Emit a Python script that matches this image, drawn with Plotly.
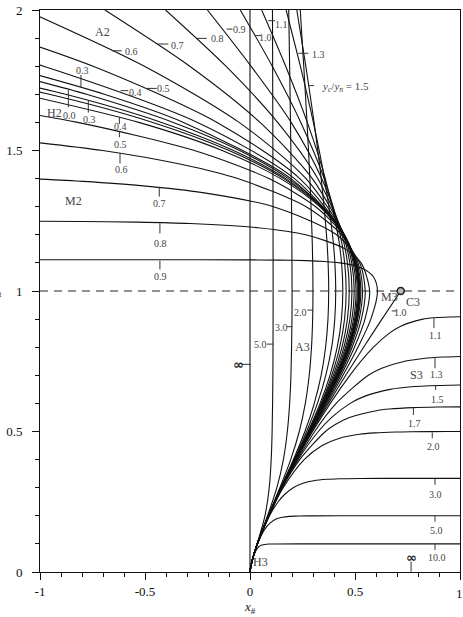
import plotly.graph_objects as go

# ---------------- data: dimensionless GVF profiles x# (x) vs y# (y) ----------------
# Adverse-slope curves (A3 below y#=1, A2 above), labelled by yc/yn
A_INF_x = [0, 0]
A_INF_y = [0, 2]
A50_y = [0, 0.02, 0.05, 0.1, 0.2, 0.3, 0.4, 0.5, 0.7, 1.0, 1.5, 2.0]
A50_x = [0, 0.0041, 0.0137, 0.0338, 0.0712, 0.0916, 0.1009, 0.1054, 0.1090, 0.1101, 0.1090, 0.1070]
A30_y = [0, 0.02, 0.05, 0.1, 0.2, 0.3, 0.4, 0.5, 0.6, 0.7, 0.9, 1.0, 1.2, 1.4, 1.6, 1.8, 2.0]
A30_x = [0, 0.0041, 0.0138, 0.0347, 0.0835, 0.1279, 0.1590, 0.1778, 0.1888, 0.1950, 0.1999, 0.2003, 0.1991, 0.1964, 0.1928, 0.1887, 0.1844]
A20_y = [0, 0.02, 0.05, 0.1, 0.2, 0.3, 0.4, 0.5, 0.6, 0.7, 0.8, 0.9, 1.0, 1.1, 1.2, 1.4, 1.6, 1.8, 2.0]
A20_x = [0, 0.0041, 0.0138, 0.0347, 0.0863, 0.1423, 0.1937, 0.2346, 0.2635, 0.2820, 0.2929, 0.2983, 0.2998, 0.2986, 0.2954, 0.2851, 0.2715, 0.2560, 0.2393]
A15_y = [0, 0.02, 0.05, 0.1, 0.2, 0.3, 0.4, 0.5, 0.6, 0.7, 0.8, 0.9, 1.0, 1.1, 1.2, 1.4, 1.6, 1.8, 2.0]
A15_x = [0, 0.0041, 0.0138, 0.0348, 0.0871, 0.1465, 0.2066, 0.2613, 0.3060, 0.3387, 0.3600, 0.3713, 0.3747, 0.3719, 0.3643, 0.3391, 0.3051, 0.2657, 0.2228]
A13_y = [0, 0.02, 0.05, 0.1, 0.3, 0.4, 0.5, 0.6, 0.7, 0.8, 0.9, 1.0, 1.1, 1.2, 1.4, 1.6, 1.8, 2.0]
A13_x = [0, 0.0041, 0.0138, 0.0348, 0.1475, 0.2097, 0.2696, 0.3210, 0.3609, 0.3889, 0.4036, 0.4083, 0.4042, 0.3929, 0.3545, 0.3017, 0.2398, 0.1720]
A11_y = [0, 0.02, 0.05, 0.1, 0.3, 0.4, 0.5, 0.6, 0.7, 0.8, 0.9, 1.0, 1.1, 1.2, 1.4, 1.6, 1.8, 2.0]
A11_x = [0, 0.0041, 0.0138, 0.0348, 0.1483, 0.2128, 0.2762, 0.3337, 0.3808, 0.4154, 0.4355, 0.4420, 0.4360, 0.4189, 0.3586, 0.2728, 0.1699, 0.0555]
A10_y = [0, 0.02, 0.05, 0.1, 0.3, 0.4, 0.5, 0.6, 0.7, 0.8, 0.9, 1.0, 1.1, 1.2, 1.4, 1.6, 1.8, 2.0]
A10_x = [0, 0.0041, 0.0138, 0.0348, 0.1486, 0.2137, 0.2788, 0.3389, 0.3893, 0.4273, 0.4503, 0.4579, 0.4506, 0.4296, 0.3533, 0.2419, 0.1061, -0.0465]
A09_y = [0, 0.02, 0.05, 0.1, 0.3, 0.5, 0.7, 0.8, 0.9, 1.0, 1.1, 1.2, 1.4, 1.6, 1.8, 2.0]
A09_x = [0, 0.0041, 0.0138, 0.0348, 0.1488, 0.2809, 0.3967, 0.4382, 0.4638, 0.4726, 0.4639, 0.4382, 0.3416, 0.1959, 0.0049, -0.2028]
A08_y = [0, 0.02, 0.05, 0.1, 0.3, 0.5, 0.7, 0.8, 0.9, 1.0, 1.1, 1.2, 1.4, 1.6, 1.8, 2.0]
A08_x = [0, 0.0041, 0.0138, 0.0348, 0.1490, 0.2826, 0.4028, 0.4473, 0.4756, 0.4855, 0.4752, 0.4442, 0.3226, 0.1315, -0.1146, -0.4022]
A07_y = [0, 0.02, 0.05, 0.1, 0.3, 0.5, 0.7, 0.8, 0.9, 1.0, 1.1, 1.2, 1.4, 1.6, 1.8, 2.0]
A07_x = [0, 0.0041, 0.0138, 0.0348, 0.1491, 0.2838, 0.4076, 0.4546, 0.4853, 0.4963, 0.4844, 0.4476, 0.2968, 0.0476, -0.2870, -0.6909]
A06_y = [0, 0.02, 0.05, 0.1, 0.3, 0.5, 0.7, 0.8, 0.9, 1.0, 1.1, 1.2, 1.4, 1.6, 1.8, 2.0]
A06_x = [0, 0.0041, 0.0138, 0.0348, 0.1492, 0.2848, 0.4113, 0.4603, 0.4930, 0.5050, 0.4917, 0.4492, 0.2669, -0.0520, -0.5030, -1.0719]
A05_y = [0, 0.02, 0.05, 0.1, 0.3, 0.5, 0.7, 0.8, 0.9, 1.0, 1.1, 1.2, 1.4, 1.6, 1.8, 2.0]
A05_x = [0, 0.0041, 0.0138, 0.0348, 0.1492, 0.2853, 0.4137, 0.4641, 0.4984, 0.5111, 0.4965, 0.4492, 0.2368, -0.1569, -0.7474, -1.5345]
A04_y = [0, 0.02, 0.05, 0.1, 0.3, 0.5, 0.7, 0.8, 0.9, 1.0, 1.1, 1.2, 1.4, 1.6, 1.8, 1.9]
A04_x = [0, 0.0041, 0.0138, 0.0348, 0.1493, 0.2858, 0.4154, 0.4672, 0.5021, 0.5155, 0.4993, 0.4490, 0.2120, -0.2499, -0.9830, -1.4623]
A03_y = [0, 0.02, 0.05, 0.1, 0.3, 0.5, 0.7, 0.8, 0.9, 1.0, 1.1, 1.2, 1.4, 1.6, 1.7, 1.8]
A03_x = [0, 0.0041, 0.0138, 0.0348, 0.1493, 0.2860, 0.4163, 0.4683, 0.5041, 0.5176, 0.5016, 0.4482, 0.1947, -0.3168, -0.6937, -1.1645]
# Horizontal bed (H3 / H2), yc/yn = 0
H00_y = [0, 0.02, 0.05, 0.1, 0.2, 0.3, 0.4, 0.5, 0.6, 0.7, 0.8, 0.9, 1.0, 1.1, 1.2, 1.3, 1.4, 1.5, 1.6, 1.7, 1.75]
H00_x = [0, 0.0041, 0.0138, 0.0348, 0.0875, 0.1494, 0.2167, 0.2862, 0.3544, 0.4169, 0.4692, 0.5055, 0.5192, 0.5028, 0.4479, 0.3448, 0.1828, -0.0496, -0.3654, -0.7788, -1.026]
# Mild slope (M3 / M2)
M03_y = [0, 0.02, 0.05, 0.1, 0.3, 0.5, 0.7, 0.8, 0.9, 1.0, 1.1, 1.2, 1.3, 1.4, 1.5, 1.6, 1.7, 1.8]
M03_x = [0, 0.0041, 0.0138, 0.0348, 0.1493, 0.2863, 0.4175, 0.4702, 0.5068, 0.5207, 0.5040, 0.4473, 0.3400, 0.1697, -0.0783, -0.4210, -0.8784, -1.4744]
M035_y = [0, 0.02, 0.05, 0.1, 0.3, 0.5, 0.7, 0.8, 0.9, 1.0, 1.1, 1.2, 1.3, 1.4, 1.5, 1.6, 1.7, 1.8]
M035_x = [0, 0.0041, 0.0138, 0.0348, 0.1493, 0.2865, 0.4180, 0.4710, 0.5079, 0.5218, 0.5048, 0.4470, 0.3368, 0.1602, -0.0995, -0.4630, -0.9558, -1.6102]
M04_y = [0, 0.02, 0.05, 0.1, 0.3, 0.5, 0.7, 0.8, 0.9, 1.0, 1.1, 1.2, 1.3, 1.4, 1.5, 1.6, 1.7]
M04_x = [0, 0.0041, 0.0138, 0.0348, 0.1494, 0.2866, 0.4185, 0.4718, 0.5090, 0.5232, 0.5058, 0.4463, 0.3317, 0.1456, -0.1325, -0.5296, -1.0821]
M05_y = [0, 0.02, 0.05, 0.1, 0.3, 0.5, 0.7, 0.8, 0.9, 1.0, 1.1, 1.2, 1.3, 1.4, 1.5, 1.6, 1.65]
M05_x = [0, 0.0041, 0.0138, 0.0348, 0.1494, 0.2869, 0.4201, 0.4745, 0.5129, 0.5278, 0.5091, 0.4436, 0.3128, 0.0900, -0.2653, -0.8209, -1.2092]
M06_y = [0, 0.02, 0.05, 0.1, 0.3, 0.5, 0.7, 0.8, 0.9, 1.0, 1.1, 1.2, 1.3, 1.4, 1.45, 1.5, 1.55]
M06_x = [0, 0.0041, 0.0138, 0.0348, 0.1495, 0.2876, 0.4230, 0.4792, 0.5197, 0.5357, 0.5145, 0.4362, 0.2672, -0.0585, -0.323, -0.702, -1.282]
M07_y = [0, 0.02, 0.05, 0.1, 0.3, 0.5, 0.7, 0.8, 0.9, 1.0, 1.1, 1.2, 1.3, 1.35, 1.375, 1.39, 1.4]
M07_x = [0, 0.0041, 0.0138, 0.0348, 0.1496, 0.2886, 0.4273, 0.4864, 0.5305, 0.5486, 0.5222, 0.4124, 0.1118, -0.2258, -0.5206, -0.793, -1.048]
M08_y = [0, 0.02, 0.05, 0.1, 0.3, 0.5, 0.7, 0.8, 0.9, 1.0, 1.1, 1.15, 1.2, 1.225, 1.24, 1.245, 1.2475, 1.249]
M08_x = [0, 0.0041, 0.0138, 0.0348, 0.1497, 0.2900, 0.4336, 0.4973, 0.5475, 0.5696, 0.5290, 0.4524, 0.2656, 0.0387, -0.287, -0.543, -0.806, -1.159]
M09_y = [0, 0.02, 0.05, 0.1, 0.3, 0.5, 0.7, 0.8, 0.9, 1.0, 1.05, 1.075, 1.0875, 1.1, 1.105, 1.108, 1.11, 1.1108, 1.1111, 1.1111]
M09_x = [0, 0.0041, 0.0138, 0.0348, 0.1499, 0.2919, 0.4427, 0.5141, 0.5755, 0.6071, 0.5884, 0.5501, 0.5106, 0.4276, 0.3546, 0.27, 0.138, -0.028, -0.4, -1.05]
# Critical slope (C3), yc/yn = 1.0
C10_y = [0, 0.02, 0.05, 0.1, 0.3, 0.5, 0.6, 0.7, 0.8, 0.9, 1.0]
C10_x = [0, 0.0041, 0.0138, 0.0348, 0.1501, 0.2944, 0.3735, 0.4559, 0.5411, 0.6284, 0.7177]
# Steep slope (S3)
S11_y = [0, 0.02, 0.05, 0.1, 0.3, 0.5, 0.7, 0.8, 0.85, 0.875, 0.9, 0.905, 0.9075, 0.9085]
S11_x = [0, 0.0041, 0.0138, 0.0348, 0.1504, 0.2978, 0.4756, 0.5881, 0.6638, 0.7176, 0.8233, 0.8807, 0.948, 1.03]
S13_y = [0, 0.02, 0.05, 0.1, 0.3, 0.5, 0.6, 0.7, 0.725, 0.75, 0.76, 0.765, 0.7675]
S13_x = [0, 0.0041, 0.0138, 0.0348, 0.1512, 0.3080, 0.4104, 0.5635, 0.6274, 0.7367, 0.8265, 0.922, 1.03]
S15_y = [0, 0.02, 0.05, 0.1, 0.3, 0.4, 0.5, 0.55, 0.6, 0.625, 0.65, 0.66, 0.663, 0.6658]
S15_x = [0, 0.0041, 0.0138, 0.0348, 0.1524, 0.2290, 0.3254, 0.3887, 0.4770, 0.5446, 0.6672, 0.7823, 0.857, 1.03]
S17_y = [0, 0.02, 0.05, 0.1, 0.3, 0.4, 0.5, 0.525, 0.55, 0.575, 0.58, 0.585, 0.587, 0.5879]
S17_x = [0, 0.0041, 0.0138, 0.0349, 0.1541, 0.2368, 0.3590, 0.4061, 0.4736, 0.6073, 0.664, 0.776, 0.8926, 1.03]
S20_y = [0, 0.02, 0.05, 0.1, 0.2, 0.3, 0.4, 0.45, 0.475, 0.49, 0.495, 0.498, 0.499, 0.4998, 0.5]
S20_x = [0, 0.0041, 0.0138, 0.0348, 0.0887, 0.1580, 0.2579, 0.3438, 0.4228, 0.5208, 0.595, 0.693, 0.767, 0.939, 1.03]
S30_y = [0, 0.02, 0.05, 0.1, 0.2, 0.25, 0.275, 0.3, 0.3167, 0.325, 0.33, 0.332, 0.333, 0.3333, 0.3333]
S30_x = [0, 0.0041, 0.0138, 0.0350, 0.0927, 0.1344, 0.1633, 0.2059, 0.2556, 0.3027, 0.3654, 0.4273, 0.5221, 0.7, 1.03]
S50_y = [0, 0.02, 0.05, 0.1, 0.15, 0.175, 0.19, 0.195, 0.198, 0.199, 0.1995, 0.1999, 0.2, 0.2]
S50_x = [0, 0.0041, 0.0139, 0.0359, 0.0684, 0.0965, 0.1295, 0.1544, 0.1874, 0.2124, 0.2374, 0.30, 0.5, 1.03]
S100_y = [0, 0.02, 0.05, 0.075, 0.09, 0.095, 0.098, 0.099, 0.0995, 0.0999, 0.1, 0.1]
S100_x = [0, 0.0041, 0.0142, 0.0275, 0.0422, 0.0532, 0.0679, 0.079, 0.090, 0.116, 0.3, 1.03]

CURVES = [
    (A_INF_x, A_INF_y), (A50_x, A50_y), (A30_x, A30_y), (A20_x, A20_y), (A15_x, A15_y),
    (A13_x, A13_y), (A11_x, A11_y), (A10_x, A10_y), (A09_x, A09_y), (A08_x, A08_y),
    (A07_x, A07_y), (A06_x, A06_y), (A05_x, A05_y), (A04_x, A04_y), (A03_x, A03_y),
    (H00_x, H00_y),
    (M03_x, M03_y), (M035_x, M035_y), (M04_x, M04_y), (M05_x, M05_y), (M06_x, M06_y),
    (M07_x, M07_y), (M08_x, M08_y), (M09_x, M09_y),
    (C10_x, C10_y),
    (S11_x, S11_y), (S13_x, S13_y), (S15_x, S15_y), (S17_x, S17_y), (S20_x, S20_y),
    (S30_x, S30_y), (S50_x, S50_y), (S100_x, S100_y),
]

X_TICKS = [-1, -0.5, 0, 0.5, 1]
X_TICK_TEXT = ["-1", "-0.5", "0", "0.5", ""]
Y_TICKS = [0, 0.5, 1, 1.5, 2]
Y_TICK_TEXT = ["0", "0.5", "1", "1.5", "2"]

# ---------------- label placement (text, x, y, size) and leader ticks ----------------
FONT = "Liberation Serif, Times New Roman, serif"
LAB_COL = "#444"
LABELS = [
    ("A2", -0.701, 1.921, 12), ("0.6", -0.562, 1.852, 10), ("0.7", -0.343, 1.873, 10),
    ("0.8", -0.157, 1.897, 10), ("0.3", -0.800, 1.784, 10), ("0.4", -0.545, 1.706, 10),
    ("0.5", -0.414, 1.719, 10), ("H2", -0.933, 1.632, 12), ("0.0", -0.859, 1.623, 10),
    ("0.3", -0.762, 1.609, 10), ("0.4", -0.615, 1.584, 10), ("0.5", -0.615, 1.520, 10),
    ("0.6", -0.614, 1.434, 10), ("M2", -0.841, 1.321, 12), ("0.7", -0.433, 1.312, 10),
    ("0.8", -0.424, 1.170, 10), ("0.9", -0.424, 1.053, 10), ("0.9", -0.048, 1.931, 10),
    ("1.0", 0.076, 1.903, 10), ("1.1", 0.151, 1.947, 10), ("1.3", 0.324, 1.840, 10),
    ("2.0", 0.242, 0.925, 10), ("3.0", 0.148, 0.869, 10), ("5.0", 0.051, 0.809, 10),
    ("A3", 0.250, 0.802, 12), ("M3", 0.662, 0.980, 12), ("C3", 0.776, 0.960, 12),
    ("1.0", 0.719, 0.923, 10), ("1.1", 0.881, 0.840, 10), ("S3", 0.794, 0.700, 12),
    ("1.3", 0.889, 0.704, 10), ("1.5", 0.893, 0.615, 10), ("1.7", 0.781, 0.527, 10),
    ("2.0", 0.873, 0.448, 10), ("3.0", 0.883, 0.277, 10), ("5.0", 0.886, 0.146, 10),
    ("10.0", 0.889, 0.052, 10), ("H3", 0.052, 0.035, 12),
]
TICKS = [
    (-0.659, 1.855, -0.611, 1.855), (-0.441, 1.879, -0.389, 1.879), (-0.254, 1.899, -0.206, 1.899),
    (-0.805, 1.769, -0.805, 1.725), (-0.616, 1.713, -0.580, 1.713), (-0.492, 1.721, -0.444, 1.721),
    (-0.865, 1.715, -0.865, 1.654), (-0.770, 1.677, -0.770, 1.635), (-0.622, 1.620, -0.622, 1.594),
    (-0.622, 1.567, -0.622, 1.547), (-0.619, 1.490, -0.619, 1.454), (-0.432, 1.371, -0.432, 1.336),
    (-0.429, 1.241, -0.429, 1.205), (-0.429, 1.108, -0.429, 1.077), (-0.111, 1.932, -0.083, 1.932),
    (0.024, 1.909, 0.052, 1.909), (0.087, 1.962, 0.119, 1.962), (0.230, 1.846, 0.278, 1.846),
    (0.278, 1.731, 0.305, 1.731), (0.273, 0.932, 0.301, 0.932), (0.175, 0.873, 0.201, 0.873),
    (0.080, 0.811, 0.111, 0.811), (-0.040, 0.739, 0.003, 0.739), (0.675, 0.929, 0.698, 0.929),
    (0.876, 0.903, 0.876, 0.868), (0.881, 0.761, 0.881, 0.725), (0.884, 0.662, 0.884, 0.648),
    (0.778, 0.586, 0.778, 0.559), (0.868, 0.497, 0.868, 0.476), (0.881, 0.331, 0.881, 0.310),
    (0.881, 0.200, 0.881, 0.179), (0.881, 0.0996, 0.881, 0.078), (0.767, 0.037, 0.767, 0.001),
]

fig = go.Figure()
for cx, cy in CURVES:
    fig.add_trace(go.Scatter(x=cx, y=cy, mode="lines", hoverinfo="skip", showlegend=False,
                             line=dict(color="#111", width=1.1, shape="spline", smoothing=0.8)))
# end point of the critical-slope curve
fig.add_trace(go.Scatter(x=[C10_x[-1]], y=[C10_y[-1]], mode="markers", hoverinfo="skip", showlegend=False,
                         marker=dict(symbol="circle", size=7, color="#bbb", line=dict(color="#222", width=1.6))))

shapes = [dict(type="line", xref="x", yref="y", x0=-1, x1=1, y0=1, y1=1,
               line=dict(color="#222", width=1, dash="8px,6px"))]
for x0, y0, x1, y1 in TICKS:
    shapes.append(dict(type="line", xref="x", yref="y", x0=x0, y0=y0, x1=x1, y1=y1,
                       line=dict(color="#333", width=1)))

ann = []
for t, x, y, s in LABELS:
    ann.append(dict(x=x, y=y, xref="x", yref="y", text=t, showarrow=False,
                    font=dict(family=FONT, size=s, color=LAB_COL)))
ann.append(dict(x=0.333, y=1.726, xref="x", yref="y", xanchor="left", showarrow=False,
                text="<i>y<sub>c</sub></i>/<i>y<sub>n</sub></i> = 1.5",
                font=dict(family=FONT, size=11, color=LAB_COL)))
for x, y in [(-0.056, 0.737), (0.770, 0.052)]:
    ann.append(dict(x=x, y=y, xref="x", yref="y", text="<b>∞</b>", showarrow=False,
                    font=dict(family="DejaVu Sans, sans-serif", size=13, color="#222")))
# right-most x tick label, kept inside the page
ann.append(dict(x=1, y=-0.0374, xref="x", yref="paper", yanchor="middle", xanchor="center", xshift=-1,
                text="1", showarrow=False, font=dict(family=FONT, size=13, color="#111")))
ann.append(dict(x=0, y=-0.0637, xref="x", yref="paper", yanchor="middle", text="<i>x</i><sub>#</sub>",
                showarrow=False, font=dict(family=FONT, size=13, color="#222")))
ann.append(dict(x=-0.085, y=0.5, xref="paper", yref="paper", xanchor="right", yanchor="middle",
                text="<i>y</i><sub>#</sub>", showarrow=False, font=dict(family=FONT, size=13, color="#222")))

axis_common = dict(showgrid=False, zeroline=False, showline=True, linecolor="#111", linewidth=1,
                   mirror=True, ticks="outside", ticklen=7, tickcolor="#111", tickwidth=1,
                   tickfont=dict(family=FONT, size=13, color="#111"),
                   minor=dict(dtick=0.1, ticks="outside", ticklen=4, tickcolor="#111", tickwidth=1))
fig.update_layout(
    width=463, height=617, margin=dict(l=40, r=3, t=10, b=45),
    paper_bgcolor="white", plot_bgcolor="white",
    xaxis=dict(range=[-1, 1], tickvals=X_TICKS, ticktext=X_TICK_TEXT, ticklabelstandoff=0, **axis_common),
    yaxis=dict(range=[0, 2], tickvals=Y_TICKS, ticktext=Y_TICK_TEXT, ticklabelstandoff=7, **axis_common),
    shapes=shapes, annotations=ann,
)
fig.write_html("out.html")
